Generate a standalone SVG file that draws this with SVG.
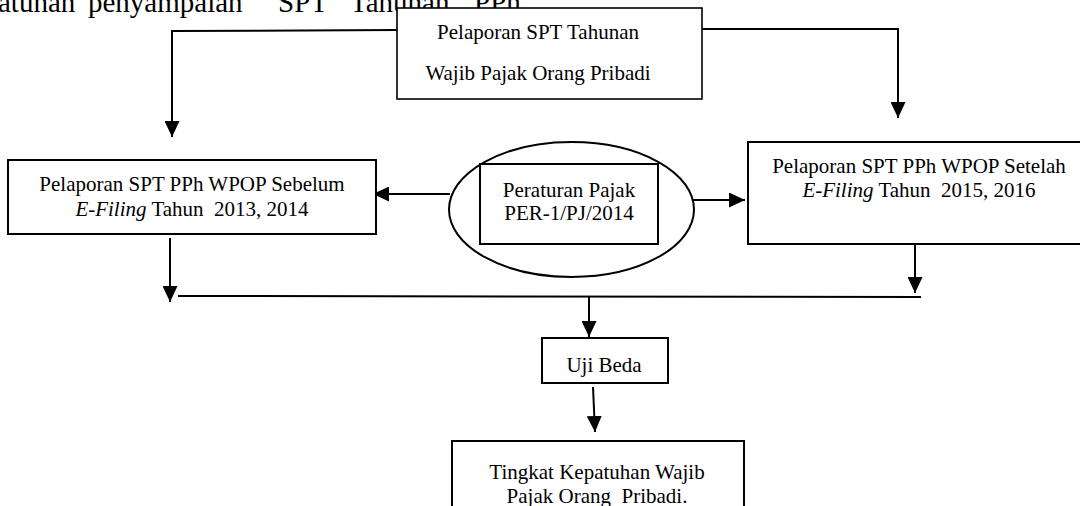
<svg xmlns="http://www.w3.org/2000/svg" width="1080" height="506" viewBox="0 0 1080 506">
<defs>
<style>
.box{fill:#fff;stroke:#000;stroke-width:2}
.t{font-family:"Liberation Serif","Times New Roman",serif;font-size:21px;fill:#000;text-anchor:middle;white-space:pre}
.h{font-family:"Liberation Serif","Times New Roman",serif;font-size:29px;fill:#000}
.c{fill:none;stroke:#000;stroke-width:2}
</style>
<marker id="ah" markerUnits="userSpaceOnUse" markerWidth="16" markerHeight="15" refX="16" refY="7.5" orient="auto">
<path d="M0,0 L16,7.5 L0,15 z" fill="#000"/>
</marker>
</defs>
<rect width="1080" height="506" fill="#fff"/>
<g id="heading">
<text class="h" x="-2" y="12">atuhan</text>
<text class="h" x="88" y="12">penyampaian</text>
<text class="h" x="278" y="12">SPT</text>
<text class="h" x="350" y="12">Tahunan</text>
<text class="h" x="474" y="12">PPh</text>
</g>
<g id="connectors">
<polyline class="c" points="397,30 172,31 172,137" marker-end="url(#ah)"/>
<polyline class="c" points="702,29 898,29 898,118" marker-end="url(#ah)"/>
<line class="c" x1="450" y1="194" x2="373" y2="194" marker-end="url(#ah)"/>
<line class="c" x1="689" y1="200" x2="745" y2="200" marker-end="url(#ah)"/>
<line class="c" x1="170" y1="238" x2="170" y2="302" marker-end="url(#ah)"/>
<line class="c" x1="178" y1="296" x2="921" y2="297"/>
<line class="c" x1="915" y1="244" x2="915" y2="293" marker-end="url(#ah)"/>
<line class="c" x1="589" y1="296" x2="589" y2="337" marker-end="url(#ah)"/>
<line class="c" x1="593" y1="387" x2="595" y2="432" marker-end="url(#ah)"/>
</g>
<g id="node-top">
<rect class="box" x="397" y="8" width="305" height="91" style="stroke-width:1.6"/>
<text class="t" x="538" y="39">Pelaporan SPT Tahunan</text>
<text class="t" x="538" y="80">Wajib Pajak Orang Pribadi</text>
</g>
<g id="node-left">
<rect class="box" x="8" y="160" width="368" height="74"/>
<text class="t" x="192" y="191">Pelaporan SPT PPh WPOP Sebelum</text>
<text class="t" x="192" y="216" xml:space="preserve"><tspan font-style="italic">E-Filing</tspan> Tahun  2013, 2014</text>
</g>
<g id="node-regulation">
<ellipse cx="571.5" cy="209.5" rx="122.5" ry="67.5" fill="#fff" stroke="#000" stroke-width="2"/>
<rect class="box" x="480" y="164" width="178" height="80"/>
<text class="t" x="569" y="197">Peraturan Pajak</text>
<text class="t" x="569" y="220">PER-1/PJ/2014</text>
</g>
<g id="node-right">
<rect class="box" x="748" y="142" width="345" height="102"/>
<text class="t" x="919" y="173">Pelaporan SPT PPh WPOP Setelah</text>
<text class="t" x="919" y="197" xml:space="preserve"><tspan font-style="italic">E-Filing</tspan> Tahun  2015, 2016</text>
</g>
<g id="node-uji">
<rect class="box" x="542" y="338" width="126" height="45"/>
<text class="t" x="604" y="372">Uji Beda</text>
</g>
<g id="node-result">
<rect class="box" x="452" y="441" width="292" height="80"/>
<text class="t" x="597" y="479">Tingkat Kepatuhan Wajib</text>
<text class="t" x="597" y="503" xml:space="preserve">Pajak Orang  Pribadi.</text>
</g>
</svg>
